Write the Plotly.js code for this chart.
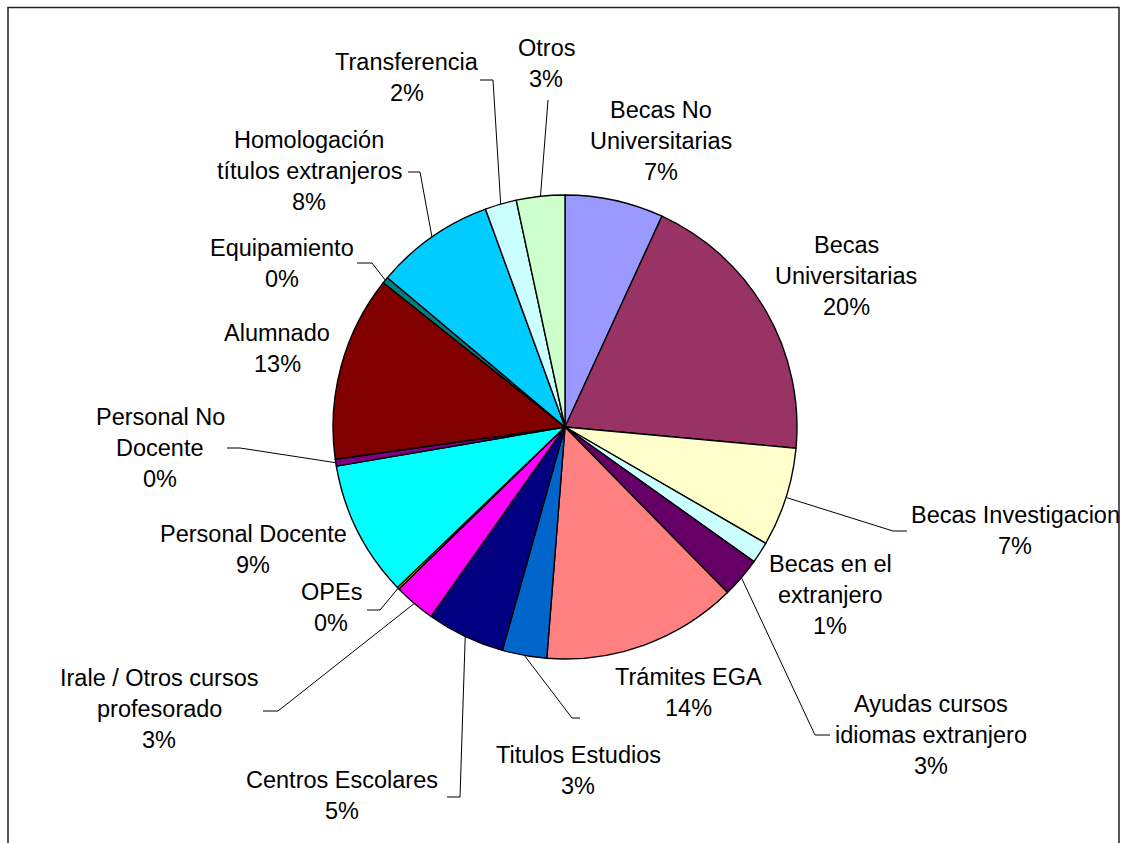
<!DOCTYPE html>
<html>
<head>
<meta charset="utf-8">
<script src="https://cdn.plot.ly/plotly-3.0.1.min.js"></script>
<style>
html,body{margin:0;padding:0;background:#ffffff;}
#chart{width:1125px;height:843px;}
</style>
</head>
<body>
<div id="chart"></div>
<script>
// ---------------- DATA ----------------
const categories = [
  "Becas No Universitarias",
  "Becas Universitarias",
  "Becas Investigacion",
  "Becas en el extranjero",
  "Ayudas cursos idiomas extranjero",
  "Trámites EGA",
  "Titulos Estudios",
  "Centros Escolares",
  "Irale / Otros cursos profesorado",
  "OPEs",
  "Personal Docente",
  "Personal No Docente",
  "Alumnado",
  "Equipamiento",
  "Homologación títulos extranjeros",
  "Transferencia",
  "Otros"
];
const values = [6.86, 19.6, 6.9, 1.49, 2.8, 13.6, 3.1, 5.45, 2.9, 0.15, 9.45, 0.48, 12.9, 0.45, 8.3, 2.2, 3.37];
const colors = [
  "#9999FF", "#993366", "#FFFFCC", "#CCFFFF", "#660066", "#FF8080", "#0066CC", "#000080",
  "#FF00FF", "#FFFF00", "#00FFFF", "#800080", "#800000", "#008080", "#00CCFF", "#CCFFFF", "#CCFFCC"
];

// ---------------- LAYOUT (positions in px) ----------------
const W = 1125, H = 843;
const pieCx = 565, pieCy = 427, pieR = 232;
const fontSize = 23.5, lineGap = 31;
// label lines, first-line centre, optional leader (elbow x, anchor x, anchor y)
const labelSpec = [
  {lines:["Becas No","Universitarias"], cx:661, cy:110},
  {lines:["Becas","Universitarias"], cx:846, cy:245},
  {lines:["Becas Investigacion"], cx:1015, cy:515, leader:[893,907,531]},
  {lines:["Becas en el","extranjero"], cx:830, cy:564},
  {lines:["Ayudas cursos","idiomas extranjero"], cx:931, cy:704, leader:[815,830,735]},
  {lines:["Trámites EGA"], cx:688, cy:677},
  {lines:["Titulos Estudios"], cx:578, cy:755, leader:[572,580,718]},
  {lines:["Centros Escolares"], cx:342, cy:780, leader:[460,447,797]},
  {lines:["Irale / Otros cursos","profesorado"], cx:159, cy:678, leader:[278,263,711]},
  {lines:["OPEs"], cx:331, cy:592, leader:[380,367,610]},
  {lines:["Personal Docente"], cx:253, cy:534},
  {lines:["Personal No","Docente"], cx:160, cy:417, leader:[240,227,448]},
  {lines:["Alumnado"], cx:277, cy:333},
  {lines:["Equipamiento"], cx:282, cy:248, leader:[372,357,263]},
  {lines:["Homologación","títulos extranjeros"], cx:309, cy:140, leader:[420,408,172]},
  {lines:["Transferencia"], cx:407, cy:62, leader:[493,480,80]},
  {lines:["Otros"], cx:546, cy:48, leader:[548,548,100]}
];

const px = x => x / W;
const py = y => 1 - y / H;

const total = values.reduce((a,b)=>a+b,0);
const annotations = [];
const shapes = [];
let cum = 0;
values.forEach((v,i) => {
  const mid = (cum + v/2) / total;
  cum += v;
  const th = 2*Math.PI*mid;
  const ex = pieCx + pieR*Math.sin(th);
  const ey = pieCy - pieR*Math.cos(th);
  const spec = labelSpec[i];
  const pct = Math.round(100*v/total) + "%";
  const allLines = spec.lines.concat([pct]);
  allLines.forEach((t,k) => {
    annotations.push({
      xref:'paper', yref:'paper', x:px(spec.cx), y:py(spec.cy + k*lineGap),
      xanchor:'center', yanchor:'middle', showarrow:false, text:t,
      font:{family:'"Liberation Sans", Arial, sans-serif', size:fontSize, color:'#000'}
    });
  });
  if (spec.leader) {
    const [hx, ax, ay] = spec.leader;
    shapes.push({
      type:'path', xref:'paper', yref:'paper',
      path:`M ${px(ex)} ${py(ey)} L ${px(hx)} ${py(ay)} L ${px(ax)} ${py(ay)}`,
      line:{color:'#000', width:1}
    });
  }
});

// chart border
shapes.push({type:'rect', xref:'paper', yref:'paper', x0:px(8), x1:px(1119), y0:-0.05, y1:py(7.5),
  line:{color:'#222', width:1.5}, fillcolor:'rgba(0,0,0,0)'});

const trace = {
  type:'pie',
  labels: categories,
  values: values,
  sort:false,
  direction:'clockwise',
  rotation:0,
  textinfo:'none',
  hoverinfo:'label+percent',
  marker:{colors: colors, line:{color:'#000', width:1.4}},
  domain:{x:[px(pieCx-pieR), px(pieCx+pieR)], y:[py(pieCy+pieR), py(pieCy-pieR)]},
  showlegend:false
};

Plotly.newPlot('chart', [trace], {
  width:W, height:H,
  margin:{l:0,r:0,t:0,b:0},
  paper_bgcolor:'#fff', plot_bgcolor:'#fff',
  showlegend:false,
  annotations: annotations,
  shapes: shapes
}, {displayModeBar:false, staticPlot:true});
</script>
</body>
</html>
